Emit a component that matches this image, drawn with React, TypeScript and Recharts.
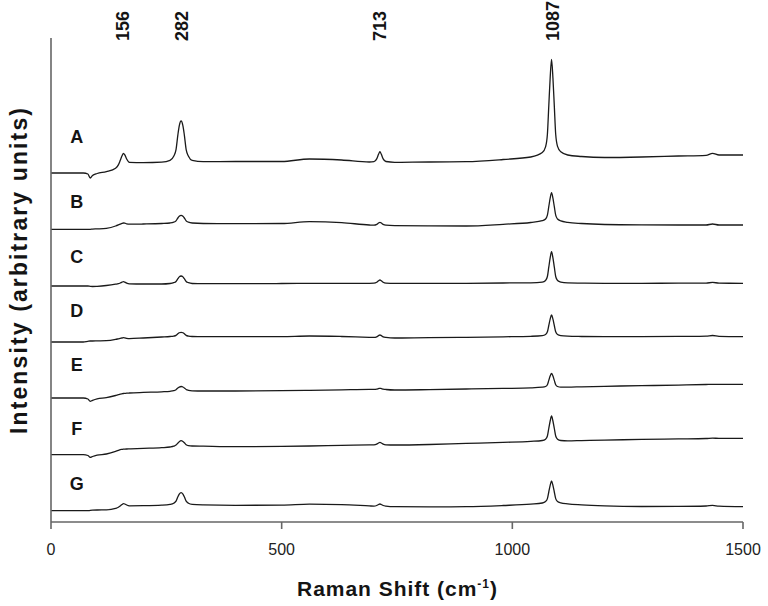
import React from 'react';
import { LineChart, Line, XAxis, YAxis, ReferenceLine, ReferenceDot, Label } from 'recharts';

// Raman shift positions (cm-1) shared by all spectra
const shift = [
  0, 70, 80, 85, 90, 100, 120, 140, 146, 150, 154, 157, 160, 164, 170, 200, 240,
  258, 266, 271, 275, 278, 282, 286, 289, 293, 298, 306, 330, 400, 500, 560, 630,
  690, 700, 706, 710, 713, 716, 720, 726, 745, 820, 900, 980, 1040, 1065, 1072,
  1076, 1079, 1082, 1085, 1088, 1091, 1094, 1098, 1105, 1120, 1150, 1200, 1280,
  1360, 1420, 1434, 1448, 1500,
];

// intensities above each spectrum's own baseline
const specA = [
  0, 0, -1, -5, -2.5, -0.5, 1.3, 4.8, 8.1, 12.4, 17.2, 19.7, 18.1, 14, 10.7, 10.3, 10.8,
  12.6, 16.7, 23.3, 38.1, 47.1, 52, 47.1, 38.1, 23.3, 16.7, 12.6, 11.3, 11.5, 11.5, 14, 13,
  11, 11.3, 14.1, 18.7, 21.3, 18.7, 14.1, 11.5, 10.7, 11, 11.3, 13.5, 16, 20.4, 26.1,
  38.7, 66.9, 95, 113.7, 95, 66.9, 38.7, 26.6, 21.2, 18, 16.5, 15.5, 16,
  17, 17.7, 19.7, 18, 18,
];
const specB = [
  0, 0, 0, 0, 0.2, 0.4, 1, 3.3, 4.4, 5.2, 6, 6.3, 6.1, 5.5, 5.1, 5.3, 5.8,
  6.3, 7.1, 8.4, 11.3, 13, 14, 13, 11.3, 8.4, 7.1, 6.3, 5.8, 5.7, 5.8, 7.7, 6.7,
  4.3, 4.1, 4.9, 6.3, 7, 6.3, 4.9, 4.1, 3.7, 3.4, 3.3, 5, 6.8, 8.6, 10.3,
  14.1, 22.6, 31.1, 36.7, 31.1, 22.6, 14.1, 10.3, 8.4, 7, 5.8, 4.8, 4.4,
  4.3, 4.3, 5.3, 4.3, 4.3,
];
const specC = [
  0, 0, 0, -0.3, -0.5, -0.3, 0.5, 1.8, 2.3, 3, 3.9, 4.3, 3.9, 2.9, 2.2, 2, 2,
  2.5, 3.3, 4.5, 7.3, 9.1, 10, 9.1, 7.3, 4.5, 3.3, 2.5, 2.3, 2.3, 2.5, 2.7, 2.7,
  2.7, 2.8, 3.7, 5.2, 6, 5.2, 3.7, 2.9, 2.7, 2.7, 2.7, 3, 3.2, 3.9, 5.5,
  9.5, 18.8, 28.1, 34.3, 28.1, 18.8, 9.5, 5.5, 3.9, 3.1, 2.9, 2.7, 2.7,
  2.8, 2.8, 3.7, 2.8, 2.7,
];
const specD = [
  0, 0, 0.7, 1, 1, 1.1, 1.3, 2.6, 3.2, 3.6, 4, 4.3, 4.1, 3.7, 3.4, 4, 5,
  5.5, 5.9, 6.6, 8.2, 9.2, 9.7, 9.2, 8.2, 6.6, 5.9, 5.5, 5.3, 5.3, 5.4, 6, 5.5,
  4.7, 4.6, 5.2, 6.4, 7, 6.4, 5.2, 4.6, 4, 4.3, 4.7, 5.2, 5.7, 6.4, 7.5,
  10.2, 16.5, 22.8, 27, 22.8, 16.5, 10.2, 7.5, 6.4, 5.8, 5.5, 5.3, 5.4,
  5.6, 5.8, 6.5, 5.7, 5.3,
];
const specE = [
  0, 0, -1, -3.3, -2.3, -0.8, 0.3, 2.5, 3.3, 3.8, 4.2, 4.5, 4.6, 4.8, 5, 5.6, 6.2,
  6.7, 7.3, 8.3, 10, 10.9, 11.5, 11, 10.1, 8.5, 7.7, 7.2, 7, 7, 7.3, 7.7, 8.2,
  8.6, 8.6, 8.9, 9.4, 9.7, 9.4, 8.9, 8.5, 8, 8.4, 9, 9.6, 10.1, 10.8, 11.5,
  13.3, 17.6, 21.9, 24.7, 21.9, 17.6, 13.3, 11.5, 10.8, 10.8, 11.2, 11.7, 12.3,
  12.9, 13.5, 13.7, 13.7, 13.7,
];
const specF = [
  0, 0, -0.8, -2.7, -1.8, -0.5, 0.7, 3.3, 4.3, 5, 5.3, 5.5, 5.6, 5.7, 5.8, 6.3, 7,
  7.7, 8.5, 9.6, 11.6, 13, 14, 13.2, 12, 10, 9.1, 8.7, 8.5, 8, 8.3, 8.7, 9.3,
  9.8, 9.9, 10.6, 11.7, 12.3, 11.7, 10.6, 9.9, 9.7, 10.2, 11.3, 12.3, 13.3, 14.2, 15.5,
  18.7, 26.2, 33.7, 38.7, 33.7, 26.2, 18.7, 15.5, 14.2, 13.8, 14.1, 14.6, 15.3,
  15.8, 16.2, 16.6, 16.3, 16.3,
];
const specG = [
  0, 0, 0, 0.3, 0.5, 0.7, 0.8, 2.3, 3.4, 4.7, 6.2, 7, 6.7, 5.7, 4.9, 5, 5.5,
  6.3, 7.5, 9.5, 13.9, 16.5, 18, 16.5, 13.9, 9.5, 7.5, 6.3, 5.8, 5.4, 5.5, 6.5, 6,
  4.8, 4.6, 5.2, 6.2, 6.7, 6.2, 5.2, 4.6, 4, 3.8, 4, 5.2, 6.6, 7.7, 9.2,
  12.1, 18.7, 25.3, 29.7, 25.3, 18.7, 12.1, 9.2, 7.9, 6.8, 5.8, 4.8, 4.2,
  4.3, 4.7, 5.3, 4.5, 4,
];

const sampleNames = ['A', 'B', 'C', 'D', 'E', 'F', 'G'];
const spectra = [specA, specB, specC, specD, specE, specF, specG];
// vertical stacking offset of each spectrum
const stackOffsets = [349, 292.7, 236, 180, 124, 67.3, 11.3];
// height at which each sample letter sits
const letterLevels = [385.3, 320.3, 265.3, 211, 157.3, 93, 38];
const peakLabels = [156, 282, 713, 1087];
const xTicks = [0, 500, 1000, 1500];

const data = shift.map((x, i) => {
  const row: Record<string, number> = { x };
  sampleNames.forEach((name, k) => {
    row[name] = stackOffsets[k] + spectra[k][i];
  });
  return row;
});

const axisColor = '#666666';
const inkColor = '#141414';

const XTick = (props: any) => {
  const { x, y, payload } = props;
  return (
    <text x={x} y={y + 24} textAnchor="middle" fontSize={16} fill="#222">
      {payload.value}
    </text>
  );
};

const PeakLabel = (props: any) => {
  const vb = props.viewBox;
  const px = vb.x + 6.5;
  const py = vb.y + 3;
  return (
    <text
      x={px}
      y={py}
      transform={`rotate(-90, ${px}, ${py})`}
      fontSize={18}
      fontWeight="bold"
      fill={inkColor}
      textAnchor="start"
    >
      {props.value}
    </text>
  );
};

export default function App() {
  return (
    <div style={{ position: 'absolute', left: 0, top: 0, fontFamily: "'Liberation Sans', Arial, sans-serif" }}>
      <LineChart width={768} height={606} data={data} margin={{ top: 38, right: 25, left: 1, bottom: 54 }}>
        <XAxis
          type="number"
          dataKey="x"
          domain={[0, 1500]}
          ticks={xTicks}
          interval={0}
          height={30}
          tickSize={7}
          axisLine={{ stroke: axisColor, strokeWidth: 1.6 }}
          tickLine={{ stroke: axisColor, strokeWidth: 1.6 }}
          tick={<XTick />}
        >
          <Label
            content={(p: any) => {
              const vb = p.viewBox;
              const cx = vb.x + vb.width / 2;
              const by = vb.y + 74;
              return (
                <text x={cx} y={by} textAnchor="middle" fontSize={21} fontWeight="bold" fill={inkColor} textLength={200} lengthAdjust="spacing">
                  Raman Shift (cm<tspan dy={-8} fontSize={12}>-1</tspan><tspan dy={8}>)</tspan>
                </text>
              );
            }}
          />
        </XAxis>
        <YAxis
          type="number"
          domain={[0, 484]}
          allowDataOverflow
          width={50}
          tick={false}
          tickLine={false}
          axisLine={{ stroke: axisColor, strokeWidth: 1.6 }}
        >
          <Label
            content={() => (
              <text
                x={27}
                y={271}
                transform="rotate(-90, 27, 271)"
                textAnchor="middle"
                fontSize={23}
                fontWeight="bold"
                fill={inkColor}
                textLength={326}
                lengthAdjust="spacing"
              >
                Intensity (arbitrary units)
              </text>
            )}
          />
        </YAxis>
        {peakLabels.map((p) => (
          <ReferenceLine key={p} x={p} stroke="none" label={<PeakLabel value={p} />} />
        ))}
        {sampleNames.map((name, k) => (
          <ReferenceDot
            key={'l' + name}
            x={56}
            y={letterLevels[k]}
            r={0}
            fill="none"
            stroke="none"
            label={{ value: name, position: 'center', fontSize: 18, fontWeight: 'bold', fill: inkColor }}
          />
        ))}
        {sampleNames.map((name) => (
          <Line
            key={name}
            dataKey={name}
            type="monotone"
            stroke="#1a1a1a"
            strokeWidth={1.3}
            dot={false}
            isAnimationActive={false}
          />
        ))}
      </LineChart>
    </div>
  );
}
